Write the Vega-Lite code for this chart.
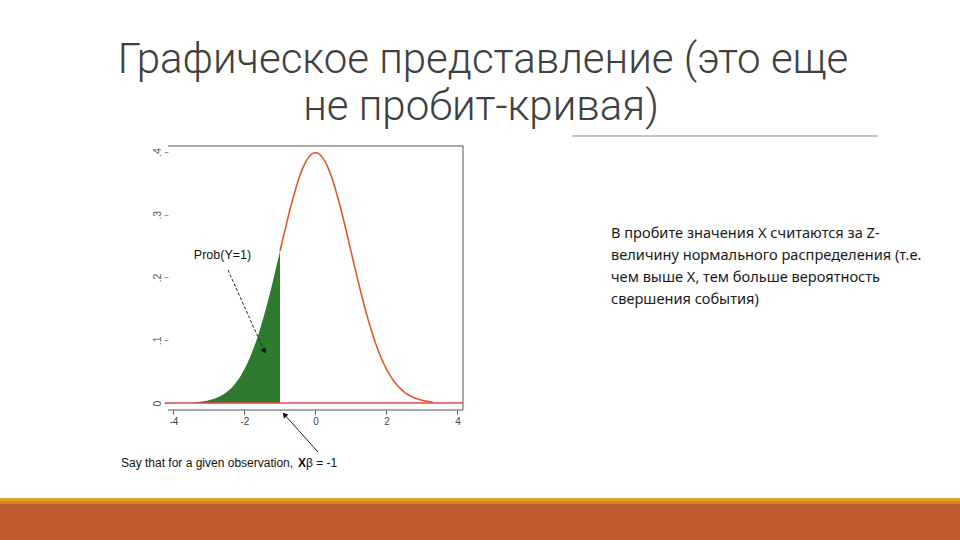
{
  "$schema": "https://vega.github.io/schema/vega-lite/v6.json",
  "width": 960,
  "height": 540,
  "autosize": {"type": "fit", "contains": "padding"},
  "padding": 0,
  "background": "white",
  "config": {"view": {"stroke": null}},
  "datasets": {
    "density": [
      {"x": -3.4, "y": 0.0012}, {"x": -3.3, "y": 0.0017}, {"x": -3.2, "y": 0.0024}, {"x": -3.1, "y": 0.0033},
      {"x": -3.0, "y": 0.0044}, {"x": -2.9, "y": 0.0060}, {"x": -2.8, "y": 0.0079}, {"x": -2.7, "y": 0.0104},
      {"x": -2.6, "y": 0.0136}, {"x": -2.5, "y": 0.0175}, {"x": -2.4, "y": 0.0224}, {"x": -2.3, "y": 0.0283},
      {"x": -2.2, "y": 0.0355}, {"x": -2.1, "y": 0.0440}, {"x": -2.0, "y": 0.0540}, {"x": -1.9, "y": 0.0656},
      {"x": -1.8, "y": 0.0790}, {"x": -1.7, "y": 0.0940}, {"x": -1.6, "y": 0.1109}, {"x": -1.5, "y": 0.1295},
      {"x": -1.4, "y": 0.1497}, {"x": -1.3, "y": 0.1714}, {"x": -1.2, "y": 0.1942}, {"x": -1.1, "y": 0.2179},
      {"x": -1.0, "y": 0.2420}, {"x": -0.9, "y": 0.2661}, {"x": -0.8, "y": 0.2897}, {"x": -0.7, "y": 0.3123},
      {"x": -0.6, "y": 0.3332}, {"x": -0.5, "y": 0.3521}, {"x": -0.4, "y": 0.3683}, {"x": -0.3, "y": 0.3814},
      {"x": -0.2, "y": 0.3910}, {"x": -0.1, "y": 0.3970}, {"x": 0.0, "y": 0.3989}, {"x": 0.1, "y": 0.3970},
      {"x": 0.2, "y": 0.3910}, {"x": 0.3, "y": 0.3814}, {"x": 0.4, "y": 0.3683}, {"x": 0.5, "y": 0.3521},
      {"x": 0.6, "y": 0.3332}, {"x": 0.7, "y": 0.3123}, {"x": 0.8, "y": 0.2897}, {"x": 0.9, "y": 0.2661},
      {"x": 1.0, "y": 0.2420}, {"x": 1.1, "y": 0.2179}, {"x": 1.2, "y": 0.1942}, {"x": 1.3, "y": 0.1714},
      {"x": 1.4, "y": 0.1497}, {"x": 1.5, "y": 0.1295}, {"x": 1.6, "y": 0.1109}, {"x": 1.7, "y": 0.0940},
      {"x": 1.8, "y": 0.0790}, {"x": 1.9, "y": 0.0656}, {"x": 2.0, "y": 0.0540}, {"x": 2.1, "y": 0.0440},
      {"x": 2.2, "y": 0.0355}, {"x": 2.3, "y": 0.0283}, {"x": 2.4, "y": 0.0224}, {"x": 2.5, "y": 0.0175},
      {"x": 2.6, "y": 0.0136}, {"x": 2.7, "y": 0.0104}, {"x": 2.8, "y": 0.0079}, {"x": 2.9, "y": 0.0060},
      {"x": 3.0, "y": 0.0044}, {"x": 3.1, "y": 0.0033}, {"x": 3.2, "y": 0.0024}, {"x": 3.3, "y": 0.0017}
    ],
    "frame": [
      {"x": -4.155, "y": 0.4096, "x2": 4.155, "y2": 0.4096},
      {"x": 4.155, "y": 0.4096, "x2": 4.155, "y2": -0.0112},
      {"x": -4.155, "y": -0.0112, "x2": 4.155, "y2": -0.0112}
    ],
    "zeroline": [{"x": -4.24, "y": 0, "x2": 4.155, "y2": 0}],
    "underline": [{"x": 7.225, "y": 0.4255, "x2": 15.845, "y2": 0.4255}],
    "band": [
      {"part": "stripe1", "x": -8.887, "x2": 18.155, "y": -0.1514, "y2": -0.1562},
      {"part": "stripe2", "x": -8.887, "x2": 18.155, "y": -0.1562, "y2": -0.1610},
      {"part": "base", "x": -8.887, "x2": 18.155, "y": -0.1610, "y2": -0.2183}
    ],
    "arrow1": [{"x": -2.465, "y": 0.2120, "x2": -1.451, "y2": 0.0840}],
    "arrow2": [{"x": 0.0704, "y": -0.0781, "x2": -0.859, "y2": -0.0194}],
    "head1": [{"x": -1.451, "y": 0.0840}],
    "head2": [{"x": -0.859, "y": -0.0194}],
    "title": [
      {"x": 4.718, "y": 0.5466, "text": "Графическое представление (это еще"},
      {"x": 4.662, "y": 0.4717, "text": "не пробит-кривая)"}
    ],
    "body": [
      {"x": 8.324, "y": 0.2693, "text": "В пробите значения Х считаются за Z-"},
      {"x": 8.324, "y": 0.2343, "text": "величину нормального распределения (т.е."},
      {"x": 8.324, "y": 0.1992, "text": "чем выше Х, тем больше вероятность"},
      {"x": 8.324, "y": 0.1641, "text": "свершения события)"}
    ],
    "prob": [{"x": -2.62, "y": 0.2359, "text": "Prob(Y=1)"}],
    "say": [
      {"x": -5.479, "y": -0.0956, "text": "Say that for a given observation,"},
      {"x": -0.268, "y": -0.0956, "text": "β = -1"}
    ],
    "sayx": [{"x": -0.493, "y": -0.0956, "text": "X"}]
  },
  "encoding": {
    "x": {
      "field": "x", "type": "quantitative",
      "scale": {"domain": [-8.887, 18.155], "nice": false, "zero": false},
      "axis": {
        "orient": "bottom", "offset": -130, "domain": false, "grid": false, "title": null,
        "values": [-4, -2, 0, 2, 4], "labelExpr": "'' + datum.value",
        "tickSize": 4, "tickColor": "#555", "labelColor": "#444", "labelFontSize": 10,
        "labelFont": "Liberation Sans", "labelPadding": 2, "labelFlush": false
      }
    },
    "y": {
      "field": "y", "type": "quantitative",
      "scale": {"domain": [-0.2183, 0.6422], "nice": false, "zero": false},
      "axis": {
        "orient": "left", "offset": -168, "domain": false, "grid": false, "title": null,
        "values": [0, 0.1, 0.2, 0.3, 0.4],
        "labelExpr": "datum.value == 0 ? '0' : replace(format(datum.value, '.1f'), '0.', '.')",
        "labelAngle": -90, "tickSize": 4, "tickColor": "#999", "labelColor": "#555",
        "labelFontSize": 10.5, "labelFont": "Liberation Sans", "labelPadding": 2
      }
    }
  },
  "layer": [
    {
      "data": {"name": "band"},
      "mark": {"type": "rect"},
      "encoding": {
        "x2": {"field": "x2"}, "y2": {"field": "y2"},
        "color": {"field": "part", "type": "nominal", "legend": null,
          "scale": {"domain": ["stripe1", "stripe2", "base"], "range": ["#DDA42A", "#D8822C", "#BE5A2D"]}}
      }
    },
    {
      "data": {"name": "underline"},
      "mark": {"type": "rule", "color": "#8a8a8a", "strokeWidth": 1},
      "encoding": {"x2": {"field": "x2"}, "y2": {"field": "y2"}}
    },
    {
      "data": {"name": "frame"},
      "mark": {"type": "rule", "color": "#555555", "strokeWidth": 1},
      "encoding": {"x2": {"field": "x2"}, "y2": {"field": "y2"}}
    },
    {
      "data": {"name": "density"},
      "transform": [{"filter": "datum.x <= -1"}],
      "mark": {"type": "area", "color": "#2E7A2E", "interpolate": "monotone"},
      "encoding": {"y2": {"datum": 0}}
    },
    {
      "data": {"name": "density"},
      "transform": [{"filter": "datum.x >= -1"}],
      "mark": {"type": "line", "color": "#E05A28", "strokeWidth": 1.6, "interpolate": "monotone"}
    },
    {
      "data": {"name": "zeroline"},
      "mark": {"type": "rule", "color": "#E04545", "strokeWidth": 1.3},
      "encoding": {"x2": {"field": "x2"}, "y2": {"field": "y2"}}
    },
    {
      "data": {"name": "arrow1"},
      "mark": {"type": "rule", "color": "#222", "strokeWidth": 1, "strokeDash": [3, 2]},
      "encoding": {"x2": {"field": "x2"}, "y2": {"field": "y2"}}
    },
    {
      "data": {"name": "arrow2"},
      "mark": {"type": "rule", "color": "#222", "strokeWidth": 1},
      "encoding": {"x2": {"field": "x2"}, "y2": {"field": "y2"}}
    },
    {
      "data": {"name": "head1"},
      "mark": {"type": "point", "shape": "triangle", "filled": true, "color": "#111", "size": 35, "angle": 156, "opacity": 1}
    },
    {
      "data": {"name": "head2"},
      "mark": {"type": "point", "shape": "triangle", "filled": true, "color": "#111", "size": 35, "angle": 318, "opacity": 1}
    },
    {
      "data": {"name": "title"},
      "mark": {"type": "text", "font": "Roboto", "fontWeight": 300, "fontSize": 42, "color": "#404040", "align": "center", "baseline": "middle"},
      "encoding": {"text": {"field": "text"}}
    },
    {
      "data": {"name": "body"},
      "mark": {"type": "text", "font": "Noto Sans", "fontSize": 14.6, "color": "#1a1a1a", "align": "left", "baseline": "middle"},
      "encoding": {"text": {"field": "text"}}
    },
    {
      "data": {"name": "prob"},
      "mark": {"type": "text", "font": "Liberation Sans", "fontSize": 12.5, "color": "#111", "align": "center", "baseline": "middle"},
      "encoding": {"text": {"field": "text"}}
    },
    {
      "data": {"name": "say"},
      "mark": {"type": "text", "font": "Liberation Sans", "fontSize": 12, "color": "#111", "align": "left", "baseline": "middle"},
      "encoding": {"text": {"field": "text"}}
    },
    {
      "data": {"name": "sayx"},
      "mark": {"type": "text", "font": "Liberation Sans", "fontSize": 12, "fontWeight": "bold", "color": "#111", "align": "left", "baseline": "middle"},
      "encoding": {"text": {"field": "text"}}
    }
  ]
}
